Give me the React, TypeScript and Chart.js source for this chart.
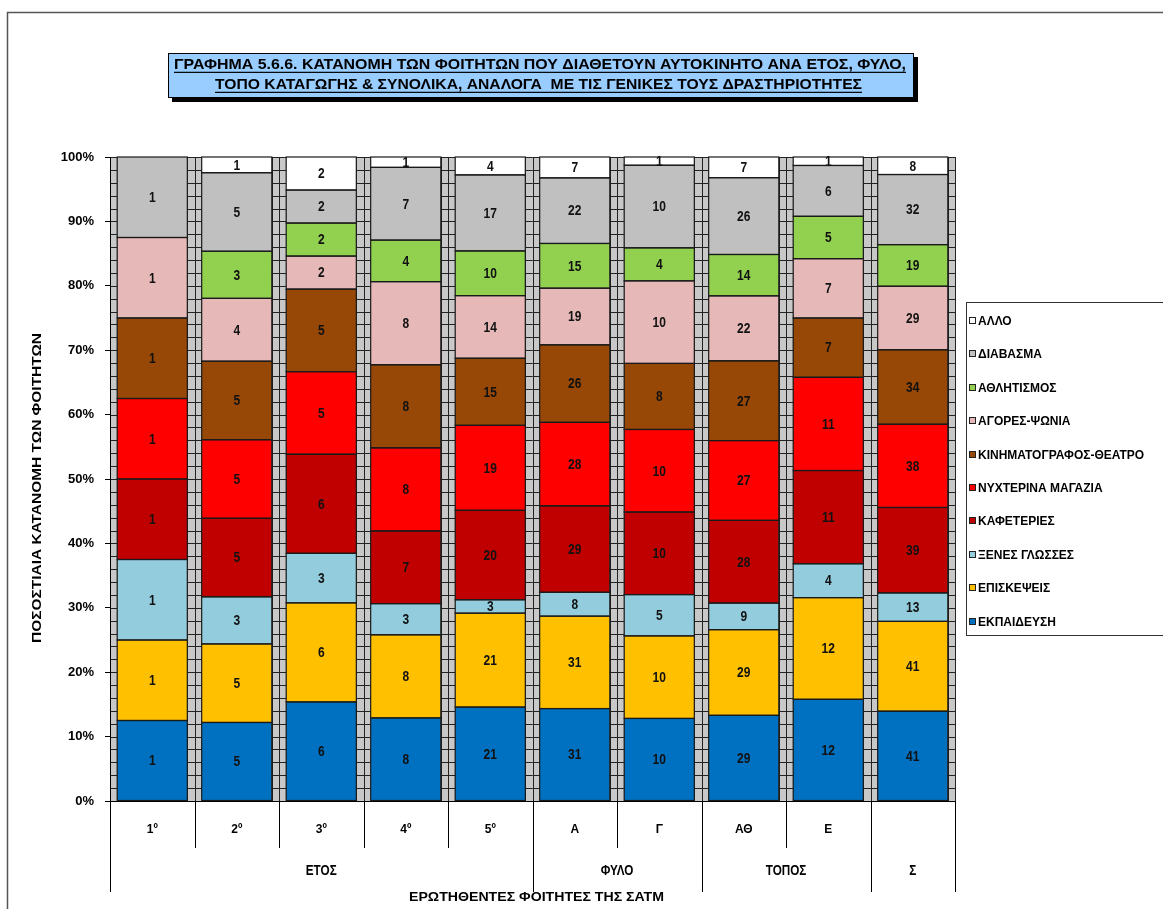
import React, { useEffect, useRef } from 'react';
import { Chart, registerables } from 'chart.js';

Chart.register(...registerables);

const categories = ['1º', '2º', '3º', '4º', '5º', 'Α', 'Γ', 'ΑΘ', 'Ε', ''];
const groupLabels = ['ΕΤΟΣ', 'ΦΥΛΟ', 'ΤΟΠΟΣ', 'Σ'];
const groupSizes = [5, 2, 2, 1];

const seriesNames = [
  'ΕΚΠΑΙΔΕΥΣΗ',
  'ΕΠΙΣΚΕΨΕΙΣ',
  'ΞΕΝΕΣ ΓΛΩΣΣΕΣ',
  'ΚΑΦΕΤΕΡΙΕΣ',
  'ΝΥΧΤΕΡΙΝΑ ΜΑΓΑΖΙΑ',
  'ΚΙΝΗΜΑΤΟΓΡΑΦΟΣ-ΘΕΑΤΡΟ',
  'ΑΓΟΡΕΣ-ΨΩΝΙΑ',
  'ΑΘΛΗΤΙΣΜΟΣ',
  'ΔΙΑΒΑΣΜΑ',
  'ΑΛΛΟ',
];

const ekpaideusi = [1, 5, 6, 8, 21, 31, 10, 29, 12, 41];
const episkepseis = [1, 5, 6, 8, 21, 31, 10, 29, 12, 41];
const xenesGlosses = [1, 3, 3, 3, 3, 8, 5, 9, 4, 13];
const kafeteries = [1, 5, 6, 7, 20, 29, 10, 28, 11, 39];
const nyxterina = [1, 5, 5, 8, 19, 28, 10, 27, 11, 38];
const kinimatografos = [1, 5, 5, 8, 15, 26, 8, 27, 7, 34];
const agores = [1, 4, 2, 8, 14, 19, 10, 22, 7, 29];
const athlitismos = [0, 3, 2, 4, 10, 15, 4, 14, 5, 19];
const diavasma = [1, 5, 2, 7, 17, 22, 10, 26, 6, 32];
const allo = [0, 1, 2, 1, 4, 7, 1, 7, 1, 8];

const seriesCounts = [ekpaideusi, episkepseis, xenesGlosses, kafeteries, nyxterina, kinimatografos, agores, athlitismos, diavasma, allo];

const seriesColors = ['#0070c0', '#ffc000', '#93cddd', '#c00000', '#ff0000', '#974806', '#e6b9b8', '#92d050', '#c0c0c0', '#ffffff'];

const yTicks = [0, 10, 20, 30, 40, 50, 60, 70, 80, 90, 100];

const titleLine1 = 'ΓΡΑΦΗΜΑ 5.6.6. ΚΑΤΑΝΟΜΗ ΤΩΝ ΦΟΙΤΗΤΩΝ ΠΟΥ ΔΙΑΘΕΤΟΥΝ ΑΥΤΟΚΙΝΗΤΟ ΑΝΑ ΕΤΟΣ, ΦΥΛΟ,';
const titleLine2 = 'ΤΟΠΟ ΚΑΤΑΓΩΓΗΣ & ΣΥΝΟΛΙΚΑ, ΑΝΑΛΟΓΑ  ΜΕ ΤΙΣ ΓΕΝΙΚΕΣ ΤΟΥΣ ΔΡΑΣΤΗΡΙΟΤΗΤΕΣ';
const yTitle = 'ΠΟΣΟΣΤΙΑΙΑ ΚΑΤΑΝΟΜΗ ΤΩΝ ΦΟΙΤΗΤΩΝ';
const xTitle = 'ΕΡΩΤΗΘΕΝΤΕΣ ΦΟΙΤΗΤΕΣ ΤΗΣ ΣΑΤΜ';

const FONT = '"Liberation Sans", Arial, sans-serif';

const totals = categories.map((_, i) => seriesCounts.reduce((s, arr) => s + arr[i], 0));

function fitText(ctx: CanvasRenderingContext2D, text: string, cx: number, cy: number, width: number, size: number, underline = false, rotate = false) {
  ctx.save();
  ctx.font = `bold ${size}px ${FONT}`;
  const w = ctx.measureText(text).width;
  const s = width / w;
  ctx.translate(cx, cy);
  if (rotate) ctx.rotate(-Math.PI / 2);
  ctx.scale(s, 1);
  ctx.textAlign = 'center';
  ctx.textBaseline = 'middle';
  ctx.fillStyle = '#000';
  ctx.fillText(text, 0, 0);
  if (underline) {
    ctx.fillRect(-w / 2, size * 0.45, w, 1.2);
  }
  ctx.restore();
}

const decorPlugin = {
  id: 'decor',
  beforeDraw(chart: any) {
    const ctx: CanvasRenderingContext2D = chart.ctx;
    ctx.save();
    ctx.fillStyle = '#fff';
    ctx.fillRect(0, 0, chart.width, chart.height);
    ctx.strokeStyle = '#555';
    ctx.lineWidth = 1.5;
    ctx.beginPath();
    ctx.moveTo(7.5, chart.height + 5);
    ctx.lineTo(7.5, 12.5);
    ctx.lineTo(chart.width + 5, 12.5);
    ctx.stroke();
    ctx.fillStyle = '#000';
    ctx.fillRect(172, 57, 746, 45);
    ctx.fillStyle = '#99ccff';
    ctx.fillRect(168, 53, 746, 45);
    ctx.strokeStyle = '#000';
    ctx.lineWidth = 1;
    ctx.strokeRect(168.5, 53.5, 745, 44);
    ctx.restore();
    fitText(ctx, titleLine1, 540, 65, 732, 15, true);
    fitText(ctx, titleLine2, 538.5, 85, 647, 15, true);

    const { left, right, top, bottom } = chart.chartArea;
    const yScale = chart.scales.y;
    ctx.save();
    ctx.fillStyle = '#c8c8c8';
    ctx.fillRect(left, top, right - left, bottom - top);
    ctx.strokeStyle = '#222';
    ctx.lineWidth = 1;
    ctx.beginPath();
    for (let v = 0; v <= 100; v += 2) {
      const py = Math.round(yScale.getPixelForValue(v)) + 0.5;
      ctx.moveTo(left, py);
      ctx.lineTo(right, py);
    }
    const n = categories.length * 12;
    for (let k = 0; k <= n; k++) {
      const px = Math.round(left + (k * (right - left)) / n) + 0.5;
      ctx.moveTo(px, top);
      ctx.lineTo(px, bottom);
    }
    ctx.stroke();
    ctx.restore();
  },
  afterDatasetsDraw(chart: any) {
    const ctx: CanvasRenderingContext2D = chart.ctx;
    ctx.save();
    // crisp segment outlines
    ctx.strokeStyle = '#1a1a1a';
    ctx.lineWidth = 1.2;
    chart.data.datasets.forEach((ds: any, di: number) => {
      const meta = chart.getDatasetMeta(di);
      meta.data.forEach((bar: any, i: number) => {
        if (!seriesCounts[di][i]) return;
        const { x, y, base, width } = bar.getProps(['x', 'y', 'base', 'width'], true);
        ctx.strokeRect(x - width / 2, Math.min(y, base), width, Math.abs(base - y));
      });
    });
    ctx.font = `bold 12px ${FONT}`;
    ctx.textAlign = 'center';
    ctx.textBaseline = 'middle';
    ctx.fillStyle = '#111';
    chart.data.datasets.forEach((ds: any, di: number) => {
      const meta = chart.getDatasetMeta(di);
      meta.data.forEach((bar: any, i: number) => {
        const count = seriesCounts[di][i];
        if (!count) return;
        const { x, y, base } = bar.getProps(['x', 'y', 'base'], true);
        ctx.save();
        ctx.translate(x, (y + base) / 2 + 1);
        ctx.scale(1, 1.15);
        ctx.fillText(String(count), 0, 0);
        ctx.restore();
      });
    });
    ctx.restore();
  },
  afterDraw(chart: any) {
    const ctx: CanvasRenderingContext2D = chart.ctx;
    const { left, right, bottom } = chart.chartArea;
    const n = categories.length;
    const cw = (right - left) / n;
    const longIdx = new Set<number>([0]);
    let acc = 0;
    groupSizes.forEach((g) => {
      acc += g;
      longIdx.add(acc);
    });
    ctx.save();
    ctx.strokeStyle = '#000';
    ctx.lineWidth = 1;
    ctx.beginPath();
    for (let k = 0; k <= n; k++) {
      const px = Math.round(left + k * cw) + 0.5;
      ctx.moveTo(px, bottom);
      ctx.lineTo(px, longIdx.has(k) ? 892 : 848);
    }
    ctx.stroke();
    ctx.restore();

    acc = 0;
    groupSizes.forEach((g, gi) => {
      const cx = left + (acc + g / 2) * cw;
      acc += g;
      ctx.save();
      ctx.font = `bold 13px ${FONT}`;
      ctx.textAlign = 'center';
      ctx.textBaseline = 'middle';
      ctx.fillStyle = '#000';
      ctx.translate(cx, 871);
      ctx.scale(0.9, 1.1);
      ctx.fillText(groupLabels[gi], 0, 0);
      ctx.restore();
    });
    fitText(ctx, xTitle, (left + right) / 2 + 4, 897, 255, 13);
    fitText(ctx, yTitle, 37, 488, 310, 13, false, true);

    ctx.save();
    ctx.strokeStyle = '#333';
    ctx.lineWidth = 1;
    ctx.fillStyle = '#fff';
    ctx.fillRect(966, 302, 220, 334);
    ctx.strokeRect(966.5, 302.5, 220, 333);
    ctx.font = `bold 12px ${FONT}`;
    ctx.textBaseline = 'middle';
    ctx.textAlign = 'left';
    const dsList = chart.data.datasets;
    for (let k = 0; k < dsList.length; k++) {
      const di = dsList.length - 1 - k;
      const cy = Math.round(321 + k * 33.4);
      ctx.fillStyle = dsList[di].backgroundColor;
      ctx.fillRect(969, cy - 3, 6, 6);
      ctx.strokeStyle = '#222';
      ctx.strokeRect(969.5, cy - 3.5, 6, 6);
      ctx.fillStyle = '#000';
      ctx.fillText(dsList[di].label, 978, cy + 1);
    }
    ctx.restore();
  },
};

export default function App() {
  const ref = useRef<HTMLCanvasElement | null>(null);
  useEffect(() => {
    if (!ref.current) return;
    const datasets = seriesNames.map((name, si) => ({
      label: name,
      data: seriesCounts[si].map((v, i) => (v / totals[i]) * 100),
      backgroundColor: seriesColors[si],
      borderWidth: 0,
      barPercentage: 0.83,
      categoryPercentage: 1,
    }));
    const chart = new Chart(ref.current, {
      type: 'bar',
      data: { labels: categories, datasets },
      plugins: [decorPlugin],
      options: {
        responsive: false,
        animation: false,
        layout: { padding: { left: 0, top: 157, right: 208, bottom: 0 } },
        plugins: {
          legend: { display: false },
          tooltip: { enabled: false },
          title: { display: false },
        },
        scales: {
          x: {
            stacked: true,
            grid: { display: false, drawTicks: false },
            border: { display: true, color: '#000', width: 1 },
            ticks: {
              padding: 21,
              color: '#000',
              font: { family: FONT, size: 12, weight: 'bold' },
              maxRotation: 0,
              autoSkip: false,
            },
            afterFit: (s: any) => {
              s.height = 108;
            },
          },
          y: {
            stacked: true,
            min: 0,
            max: 100,
            afterBuildTicks: (s: any) => {
              s.ticks = yTicks.map((v) => ({ value: v }));
            },
            grid: { drawOnChartArea: false, drawTicks: true, tickLength: 5, color: '#000' },
            border: { display: true, color: '#000', width: 1 },
            ticks: {
              padding: 11,
              color: '#000',
              font: { family: FONT, size: 13, weight: 'bold' },
              callback: (v: any) => `${v}%`,
            },
            afterFit: (s: any) => {
              s.width = 110;
            },
          },
        },
      },
    });
    return () => chart.destroy();
  }, []);
  return (
    <div style={{ position: 'absolute', left: 0, top: 0, width: 1163, height: 909, overflow: 'hidden' }}>
      <canvas ref={ref} width={1163} height={909} style={{ display: 'block' }} />
    </div>
  );
}
